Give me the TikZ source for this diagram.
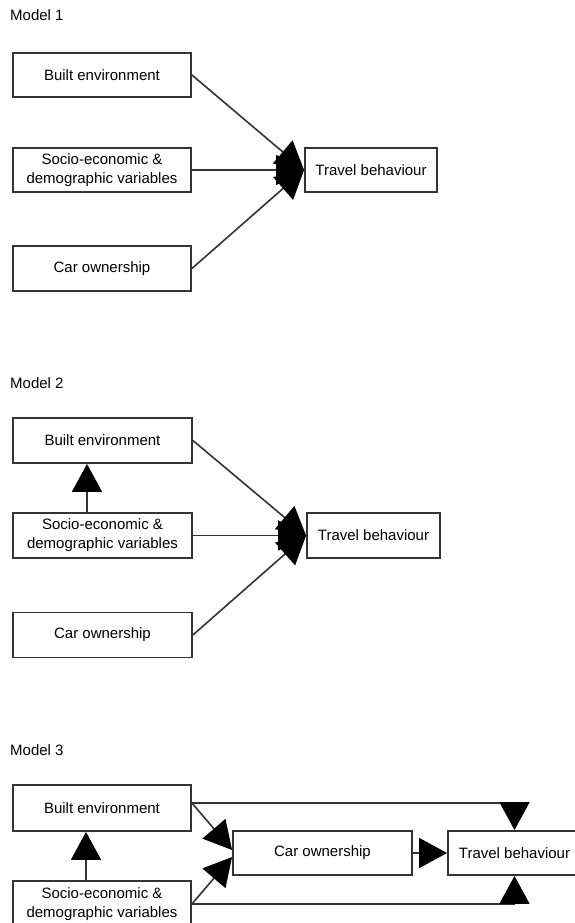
\documentclass[tikz,border=0pt]{standalone}
\usepackage{fontspec}
\setmainfont{Liberation Sans}
\usetikzlibrary{arrows.meta,calc}
\definecolor{linegray}{HTML}{333333}
\tikzset{
  box/.style={draw=linegray, line width=1.8pt, fill=white, inner sep=0pt,
    minimum width=178pt, minimum height=44pt, align=center,
    font=\fontsize{15}{19}\selectfont},
  tbox/.style={box, minimum width=132pt},
  title/.style={anchor=west, inner sep=0pt, font=\fontsize{15}{18}\selectfont},
  conn/.style={draw=linegray, line width=1.6pt,
    -{Triangle[length=28pt, width=30pt, black]}},
}
\begin{document}
\begin{tikzpicture}[x=1pt, y=-1pt]
\useasboundingbox (0,0) rectangle (575,923);
\clip (0,0) rectangle (575,923);
% ---------- Model 1 ----------
\node[title] (m1) at (10,15) {Model 1};
\node[box] (BE1) at (102,75) {Built environment};
\node[box] (SE1) at (102,170) {Socio-economic \&\\demographic variables};
\node[box, minimum height=45pt] (CO1) at (102,268.5) {Car ownership};
\node[tbox] (TB1) at (371,170) {Travel behaviour};
\draw[conn] (BE1.east) -- (TB1.west);
\draw[conn] (SE1.east) -- (TB1.west);
\draw[conn] (CO1.east) -- (TB1.west);
% ---------- Model 2 ----------
\node[title] (m2) at (10,383) {Model 2};
\node[box, minimum width=179pt, minimum height=45pt] (BE2) at (102.5,440.5) {Built environment};
\node[box, minimum width=179pt, minimum height=45pt] (SE2) at (102.5,535.5) {Socio-economic \&\\demographic variables};
\node[box, minimum width=179pt, minimum height=45pt] (CO2) at (102.5,635) {Car ownership};
\node[tbox, minimum width=133pt, minimum height=45pt] (TB2) at (373.5,535.5) {Travel behaviour};
\draw[conn] (BE2.east) -- (TB2.west);
\draw[conn] (SE2.east) -- (TB2.west);
\draw[conn] (CO2.east) -- (TB2.west);
\draw[conn] ([xshift=-15.5pt]SE2.north) -- ([xshift=-15.5pt]BE2.south);
% ---------- Model 3 ----------
\node[title] (m3) at (10,750) {Model 3};
\node[box, minimum height=46pt] (BE3) at (102,808) {Built environment};
\node[box, minimum height=46pt] (SE3) at (102,904) {Socio-economic \&\\demographic variables};
\node[box, minimum width=179pt] (CO3) at (322.5,853) {Car ownership};
\node[tbox, minimum width=133pt] (TB3) at (514.5,853) {Travel behaviour};
\coordinate (BEo) at ([yshift=5pt]BE3.east);
\draw[conn] (BEo) -| (TB3.north);
\draw[conn] (SE3.east) -| (TB3.south);
\draw[conn] (BEo) -- ([yshift=3pt]CO3.west);
\draw[conn] (SE3.east) -- ([yshift=-4pt]CO3.west);
\draw[conn] (CO3.east) -- (TB3.west);
\draw[conn] ([xshift=-16pt]SE3.north) -- ([xshift=-16pt]BE3.south);
\end{tikzpicture}
\end{document}
